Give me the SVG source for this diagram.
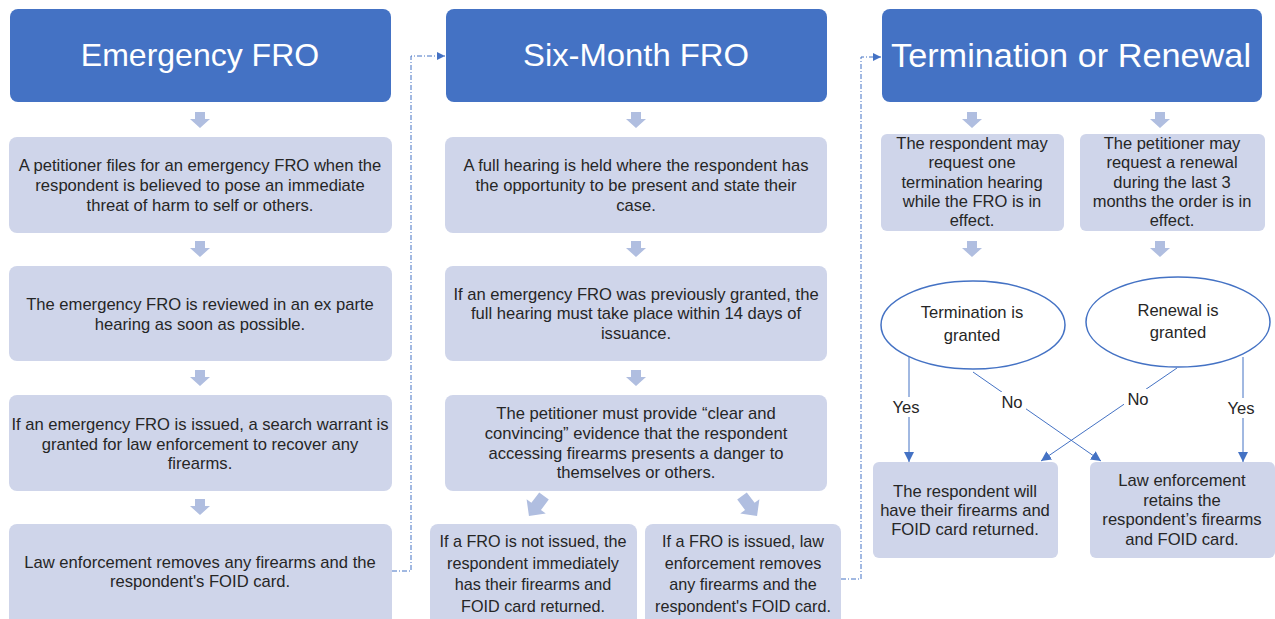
<svg xmlns="http://www.w3.org/2000/svg" width="1275" height="619" viewBox="0 0 1275 619">
<defs>
<style>
.hdr{fill:#4472C4;}
.box{fill:#CFD5EA;}
.arw{fill:#B0BEE0;}
.ht{font-family:"Liberation Sans",Arial,sans-serif;font-size:32px;fill:#FFFFFF;text-anchor:middle;}
.t{font-family:"Liberation Sans",Arial,sans-serif;font-size:16.6px;fill:#262626;text-anchor:middle;}
.t16{font-family:"Liberation Sans",Arial,sans-serif;font-size:16.2px;fill:#262626;text-anchor:middle;}
.t155{font-family:"Liberation Sans",Arial,sans-serif;font-size:16.5px;fill:#262626;text-anchor:middle;}
.ell{fill:#FFFFFF;stroke:#4472C4;stroke-width:1.5;}
.ln{fill:none;stroke:#4472C4;stroke-width:1;}
.dash{fill:none;stroke:#4472C4;stroke-width:1;stroke-dasharray:5 2 1 2;}
.lblbg{fill:#FFFFFF;}
</style>
<path id="down" d="M-5,0 h10 v7 h5 l-10,9 l-10,-9 h5 z"/>
<path id="diag" d="M-6,0 h12 v13 h6 l-12,12 l-12,-12 h6 z"/>
<marker id="ah" viewBox="0 0 10 10" refX="10" refY="5" markerWidth="8" markerHeight="8" markerUnits="userSpaceOnUse" orient="auto">
<path d="M0,0 L10,5 L0,10 z" fill="#4472C4"/>
</marker>
<marker id="ah2" viewBox="0 0 10 10" refX="10" refY="5" markerWidth="10" markerHeight="10" markerUnits="userSpaceOnUse" orient="auto">
<path d="M0,0 L10,5 L0,10 z" fill="#4472C4"/>
</marker>
</defs>
<rect width="1275" height="619" fill="#FFFFFF"/>

<g id="connectors">
<path class="dash" d="M392,571 H411 V56 H445" marker-end="url(#ah)"/>
<path class="dash" d="M841,579 H861 V57 H881" marker-end="url(#ah)"/>
<path class="ln" d="M909,357 V462" marker-end="url(#ah2)"/>
<path class="ln" d="M973,372 L1101,461" marker-end="url(#ah2)"/>
<path class="ln" d="M1177,368 L1041,461" marker-end="url(#ah2)"/>
<path class="ln" d="M1243,357 V462" marker-end="url(#ah2)"/>
</g>

<g id="block-arrows">
<use href="#down" class="arw" x="200" y="112"/>
<use href="#down" class="arw" x="200" y="241"/>
<use href="#down" class="arw" x="200" y="370"/>
<use href="#down" class="arw" x="200" y="499"/>
<use href="#down" class="arw" x="636" y="112"/>
<use href="#down" class="arw" x="636" y="241"/>
<use href="#down" class="arw" x="636" y="370"/>
<use href="#diag" class="arw" transform="translate(544,496) rotate(37)"/>
<use href="#diag" class="arw" transform="translate(742,496) rotate(-37)"/>
<use href="#down" class="arw" x="972" y="112"/>
<use href="#down" class="arw" x="1160" y="112"/>
<use href="#down" class="arw" x="972" y="241"/>
<use href="#down" class="arw" x="1160" y="241"/>
</g>

<g id="emergency-header">
<rect class="hdr" x="10" y="9" width="381" height="93" rx="8"/>
<text class="ht" x="200" y="66">Emergency FRO</text>
</g>
<g id="e1">
<rect class="box" x="9" y="137" width="383" height="96" rx="8"/>
<text class="t" x="200" y="171">A petitioner files for an emergency FRO when the</text>
<text class="t" x="200" y="191">respondent is believed to pose an immediate</text>
<text class="t" x="200" y="211">threat of harm to self or others.</text>
</g>
<g id="e2">
<rect class="box" x="9" y="266" width="383" height="95" rx="8"/>
<text class="t" x="200" y="310">The emergency FRO is reviewed in an ex parte</text>
<text class="t" x="200" y="330">hearing as soon as possible.</text>
</g>
<g id="e3">
<rect class="box" x="9" y="395" width="383" height="96" rx="8"/>
<text class="t" x="200" y="430">If an emergency FRO is issued, a search warrant is</text>
<text class="t" x="200" y="450">granted for law enforcement to recover any</text>
<text class="t" x="200" y="469">firearms.</text>
</g>
<g id="e4">
<rect class="box" x="9" y="524" width="383" height="105" rx="8"/>
<text class="t" x="200" y="568">Law enforcement removes any firearms and the</text>
<text class="t" x="200" y="587">respondent's FOID card.</text>
</g>

<g id="six-header">
<rect class="hdr" x="446" y="9" width="381" height="93" rx="8"/>
<text class="ht" x="636" y="66" textLength="226" lengthAdjust="spacingAndGlyphs">Six-Month FRO</text>
</g>
<g id="s1">
<rect class="box" x="445" y="137" width="382" height="96" rx="8"/>
<text class="t" x="636" y="171">A full hearing is held where the respondent has</text>
<text class="t" x="636" y="191">the opportunity to be present and state their</text>
<text class="t" x="636" y="211">case.</text>
</g>
<g id="s2">
<rect class="box" x="445" y="266" width="382" height="95" rx="8"/>
<text class="t" x="636" y="300">If an emergency FRO was previously granted, the</text>
<text class="t" x="636" y="319">full hearing must take place within 14 days of</text>
<text class="t" x="636" y="339">issuance.</text>
</g>
<g id="s3">
<rect class="box" x="445" y="395" width="382" height="96" rx="8"/>
<text class="t" x="636" y="419">The petitioner must provide “clear and</text>
<text class="t" x="636" y="439">convincing” evidence that the respondent</text>
<text class="t" x="636" y="459">accessing firearms presents a danger to</text>
<text class="t" x="636" y="478">themselves or others.</text>
</g>
<g id="s4">
<rect class="box" x="430" y="524" width="207" height="105" rx="8"/>
<text class="t16" x="533" y="547">If a FRO is not issued, the</text>
<text class="t16" x="533" y="569">respondent immediately</text>
<text class="t16" x="533" y="590">has their firearms and</text>
<text class="t16" x="533" y="612">FOID card returned.</text>
</g>
<g id="s5">
<rect class="box" x="645" y="524" width="196" height="105" rx="8"/>
<text class="t16" x="743" y="547">If a FRO is issued, law</text>
<text class="t16" x="743" y="569">enforcement removes</text>
<text class="t16" x="743" y="590">any firearms and the</text>
<text class="t16" x="743" y="612">respondent's FOID card.</text>
</g>

<g id="term-header">
<rect class="hdr" x="882" y="9" width="380" height="93" rx="8"/>
<text class="ht" x="1071" y="67" style="font-size:33.5px" textLength="360" lengthAdjust="spacingAndGlyphs">Termination or Renewal</text>
</g>
<g id="r1">
<rect class="box" x="881" y="134" width="183" height="97" rx="6"/>
<text class="t155" x="972" y="149">The respondent may</text>
<text class="t155" x="972" y="168">request one</text>
<text class="t155" x="972" y="188">termination hearing</text>
<text class="t155" x="972" y="207">while the FRO is in</text>
<text class="t155" x="972" y="226">effect.</text>
</g>
<g id="r2">
<rect class="box" x="1080" y="134" width="185" height="97" rx="6"/>
<text class="t155" x="1172" y="149">The petitioner may</text>
<text class="t155" x="1172" y="168">request a renewal</text>
<text class="t155" x="1172" y="188">during the last 3</text>
<text class="t155" x="1172" y="207">months the order is in</text>
<text class="t155" x="1172" y="226">effect.</text>
</g>
<g id="term-granted">
<ellipse class="ell" cx="973" cy="325" rx="92" ry="44"/>
<text class="t" x="972" y="318">Termination is</text>
<text class="t" x="972" y="341">granted</text>
</g>
<g id="renew-granted">
<ellipse class="ell" cx="1178" cy="322" rx="92" ry="45"/>
<text class="t" x="1178" y="316">Renewal is</text>
<text class="t" x="1178" y="338">granted</text>
</g>
<g id="r3">
<rect class="box" x="873" y="462" width="185" height="96" rx="6"/>
<text class="t" x="965" y="497">The respondent will</text>
<text class="t" x="965" y="516">have their firearms and</text>
<text class="t" x="965" y="535">FOID card returned.</text>
</g>
<g id="r4">
<rect class="box" x="1090" y="462" width="185" height="96" rx="6"/>
<text class="t" x="1182" y="486">Law enforcement</text>
<text class="t" x="1182" y="506">retains the</text>
<text class="t" x="1182" y="525">respondent’s firearms</text>
<text class="t" x="1182" y="545">and FOID card.</text>
</g>

<g id="labels">
<rect class="lblbg" x="891" y="397" width="32" height="20"/>
<text class="t" x="906" y="413">Yes</text>
<rect class="lblbg" x="998" y="392" width="28" height="20"/>
<text class="t" x="1012" y="408">No</text>
<rect class="lblbg" x="1124" y="389" width="28" height="20"/>
<text class="t" x="1138" y="405">No</text>
<rect class="lblbg" x="1226" y="398" width="32" height="20"/>
<text class="t" x="1241" y="414">Yes</text>
</g>
</svg>
